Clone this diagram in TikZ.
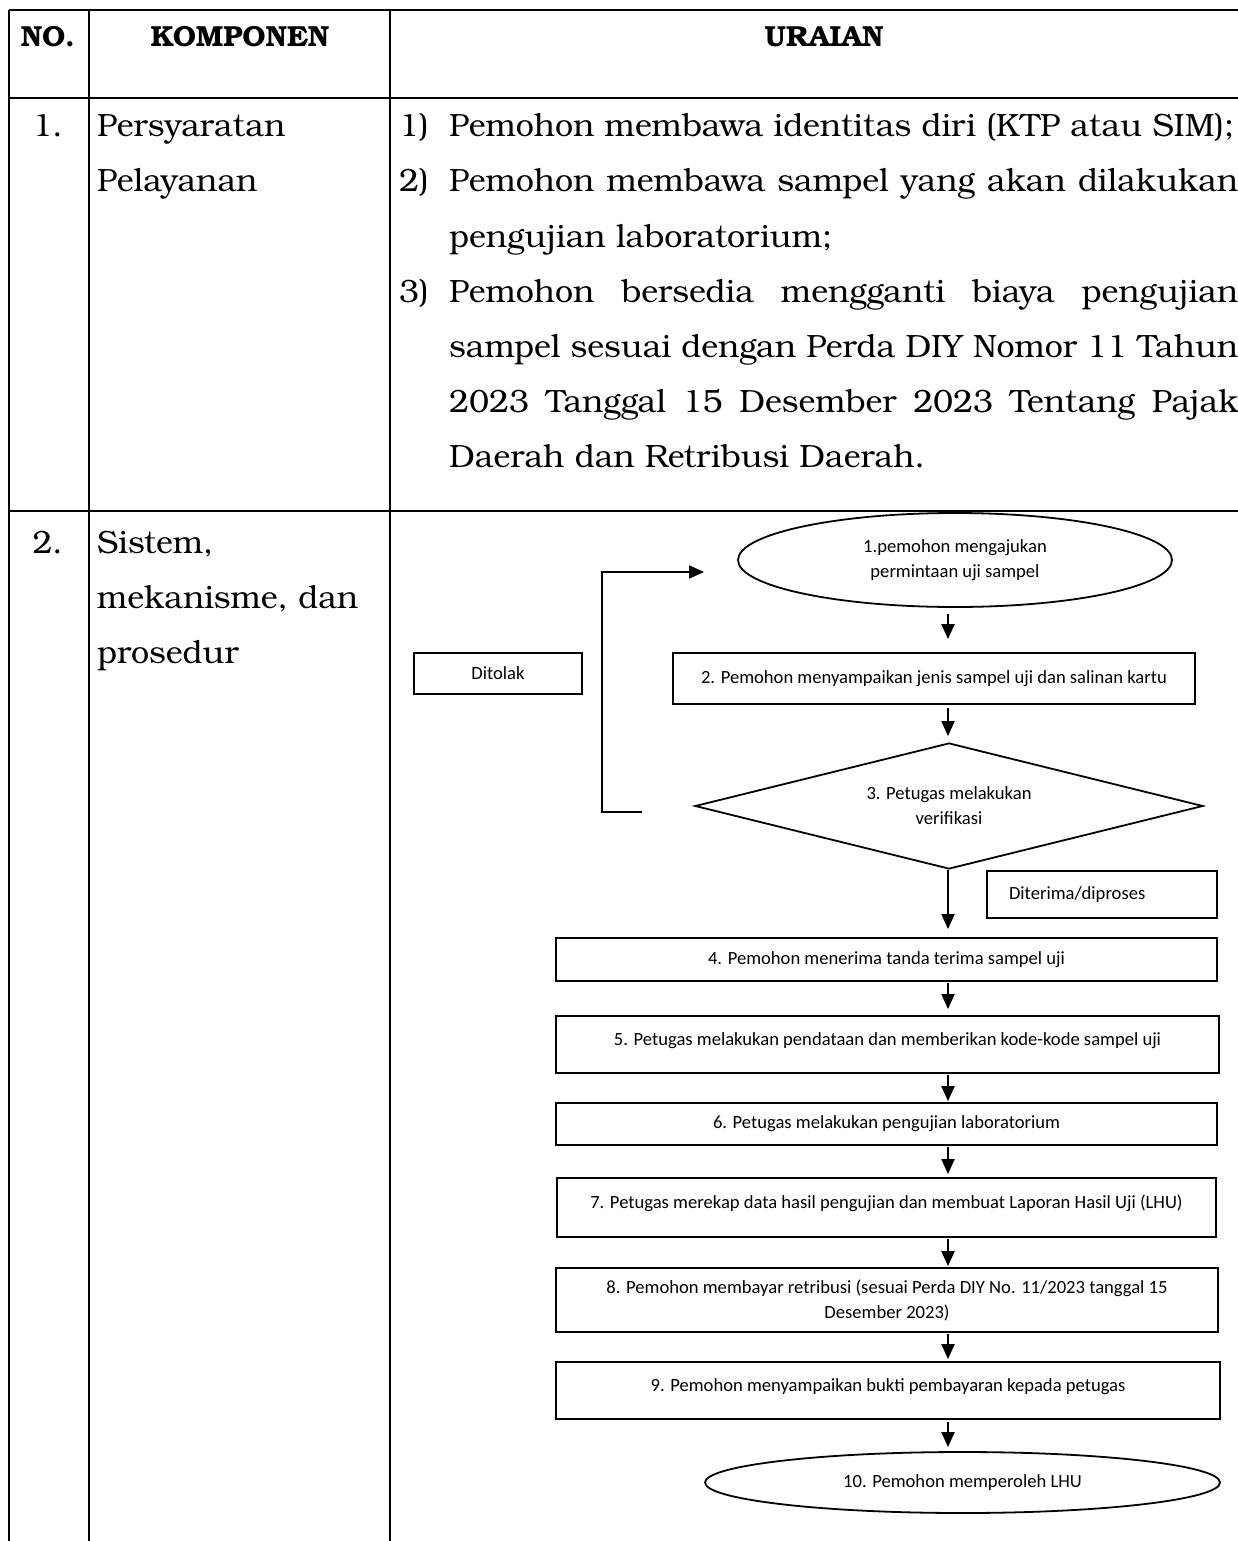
\documentclass[tikz,border=0pt]{standalone}
\usepackage{fontspec}
\setmainfont{TeX Gyre Bonum}
\newfontfamily\flowfam{Carlito}
\usetikzlibrary{shapes.geometric,arrows.meta}
\newcommand\flowfont{\flowfam\fontsize{18.6}{25}\selectfont}
\newcommand\serfont{\fontsize{32.2}{55}\selectfont}
\newcommand\hdrfont{\fontsize{29}{40}\selectfont\bfseries}
\tikzset{
 tline/.style={line width=2.5pt},
 fbox/.style={draw, line width=1.8pt, rectangle, inner sep=0pt, font=\flowfont, align=center},
 fell/.style={draw, line width=1.8pt, ellipse, inner sep=0pt, font=\flowfont, align=center},
 fdia/.style={draw, line width=1.8pt, diamond, aspect=4, inner sep=0pt, font=\flowfont, align=center},
 arr/.style={line width=2pt, -{Triangle[length=15pt,width=13pt]}},
 ser/.style={font=\serfont, inner sep=0pt},
 hdr/.style={font=\hdrfont, inner sep=0pt, anchor=base},
 raised/.style={text height=13pt, text depth=11pt},
}
\begin{document}
\begin{tikzpicture}[x=1pt,y=-1pt]
\useasboundingbox (0,0) rectangle (1238,1541);
\clip (0,0) rectangle (1238,1541);
\fill[white] (0,0) rectangle (1238,1541);
% table grid
\draw[tline] (9,10) -- (1260,10);
\draw[tline] (9,98) -- (1260,98);
\draw[tline] (9,511) -- (1260,511);
\draw[tline] (9,10) -- (9,1560);
\draw[tline] (89,10) -- (89,1560);
\draw[tline] (390,10) -- (390,1560);
% header
\node[hdr] (hno) at (48,47) {NO.};
\node[hdr] (hkomp) at (240,47) {KOMPONEN};
\node[hdr] (hur) at (824,47) {URAIAN};
% row 1
\node[ser, anchor=base east] (n1) at (63,137) {1.};
\node[ser, anchor=base west] (k1a) at (97,137) {Persyaratan};
\node[ser, anchor=base west] (k1b) at (97,192) {Pelayanan};
\node[ser, anchor=base west] (i1n) at (399,137) {1)};
\node[ser, anchor=base west] (i1) at (449,137) {\parbox[t]{789pt}{Pemohon membawa identitas diri (KTP atau SIM);}};
\node[ser, anchor=base west] (i2n) at (399,192) {2)};
\node[ser, anchor=base west] (i2) at (449,192) {\parbox[t]{789pt}{Pemohon membawa sampel yang akan dilakukan\linebreak pengujian laboratorium;}};
\node[ser, anchor=base west] (i3n) at (399,302) {3)};
\node[ser, anchor=base west] (i3) at (449,302) {\parbox[t]{789pt}{Pemohon bersedia mengganti biaya pengujian\linebreak sampel sesuai dengan Perda DIY Nomor 11 Tahun\linebreak 2023 Tanggal 15 Desember 2023 Tentang Pajak\linebreak Daerah dan Retribusi Daerah.}};
% row 2
\node[ser, anchor=base east] (n2) at (63,553) {2.};
\node[ser, anchor=base west] (k2a) at (97,553) {Sistem,};
\node[ser, anchor=base west] (k2b) at (97,608) {mekanisme, dan};
\node[ser, anchor=base west] (k2c) at (97,663) {prosedur};
% flowchart
\node[fell, minimum width=434pt, minimum height=94pt] (e1) at (955,560) {1.pemohon mengajukan\\permintaan uji sampel};
\node[fbox, minimum width=522pt, minimum height=51pt] (b2) at (934,678.5) {2. Pemohon menyampaikan jenis sampel uji dan salinan kartu};
\node[fdia, minimum width=508pt, minimum height=126pt] (d3) at (949,806) {3. Petugas melakukan\\verifikasi};
\node[fbox, minimum width=168pt, minimum height=41pt] (rej) at (498,673.5) {Ditolak};
\node[fbox, text width=186pt, align=left, inner xsep=22pt, minimum height=47pt] (acc) at (1102,894.5) {Diterima/diproses};
\node[fbox, minimum width=661pt, minimum height=43pt] (b4) at (886.5,959.5) {4. Pemohon menerima tanda terima sampel uji};
\node[fbox, raised, minimum width=663pt, minimum height=57pt] (b5) at (887.5,1044.5) {5. Petugas melakukan pendataan dan memberikan kode-kode sampel uji};
\node[fbox, minimum width=661pt, minimum height=42pt] (b6) at (886.5,1124) {6. Petugas melakukan pengujian laboratorium};
\node[fbox, raised, minimum width=659pt, minimum height=59pt] (b7) at (886.5,1207.5) {7. Petugas merekap data hasil pengujian dan membuat Laporan Hasil Uji (LHU)};
\node[fbox, minimum width=662pt, minimum height=64pt] (b8) at (887,1300) {8. Pemohon membayar retribusi (sesuai Perda DIY No. 11/2023 tanggal 15\\Desember 2023)};
\node[fbox, raised, minimum width=664pt, minimum height=57pt] (b9) at (888,1390.5) {9. Pemohon menyampaikan bukti pembayaran kepada petugas};
\node[fell, minimum width=515pt, minimum height=61pt] (e10) at (962.5,1482.5) {10. Pemohon memperoleh LHU};
% feedback (rejected)
\coordinate (fbS) at (642,812);
\coordinate (fbE) at (704,572);
\draw[arr] (fbS) -- ++(-40,0) |- (fbE);
% arrows
\coordinate (ax) at (948,0);
\draw[arr, shorten <=6pt, shorten >=13pt] (e1.south -| ax) -- (b2.north -| ax);
\draw[arr, shorten <=3pt, shorten >=6pt] (b2.south -| ax) -- (d3.north -| ax);
\draw[arr, shorten >=8pt] (d3.south -| ax) -- (b4.north -| ax);
\draw[arr, shorten <=1pt, shorten >=6pt] (b4.south -| ax) -- (b5.north -| ax);
\draw[arr, shorten <=1pt, shorten >=1pt] (b5.south -| ax) -- (b6.north -| ax);
\draw[arr, shorten <=1pt, shorten >=3pt] (b6.south -| ax) -- (b7.north -| ax);
\draw[arr, shorten <=1pt, shorten >=1pt] (b7.south -| ax) -- (b8.north -| ax);
\draw[arr, shorten <=1pt, shorten >=2pt] (b8.south -| ax) -- (b9.north -| ax);
\draw[arr, shorten <=2pt, shorten >=4pt] (b9.south -| ax) -- (e10.north -| ax);
\end{tikzpicture}
\end{document}
